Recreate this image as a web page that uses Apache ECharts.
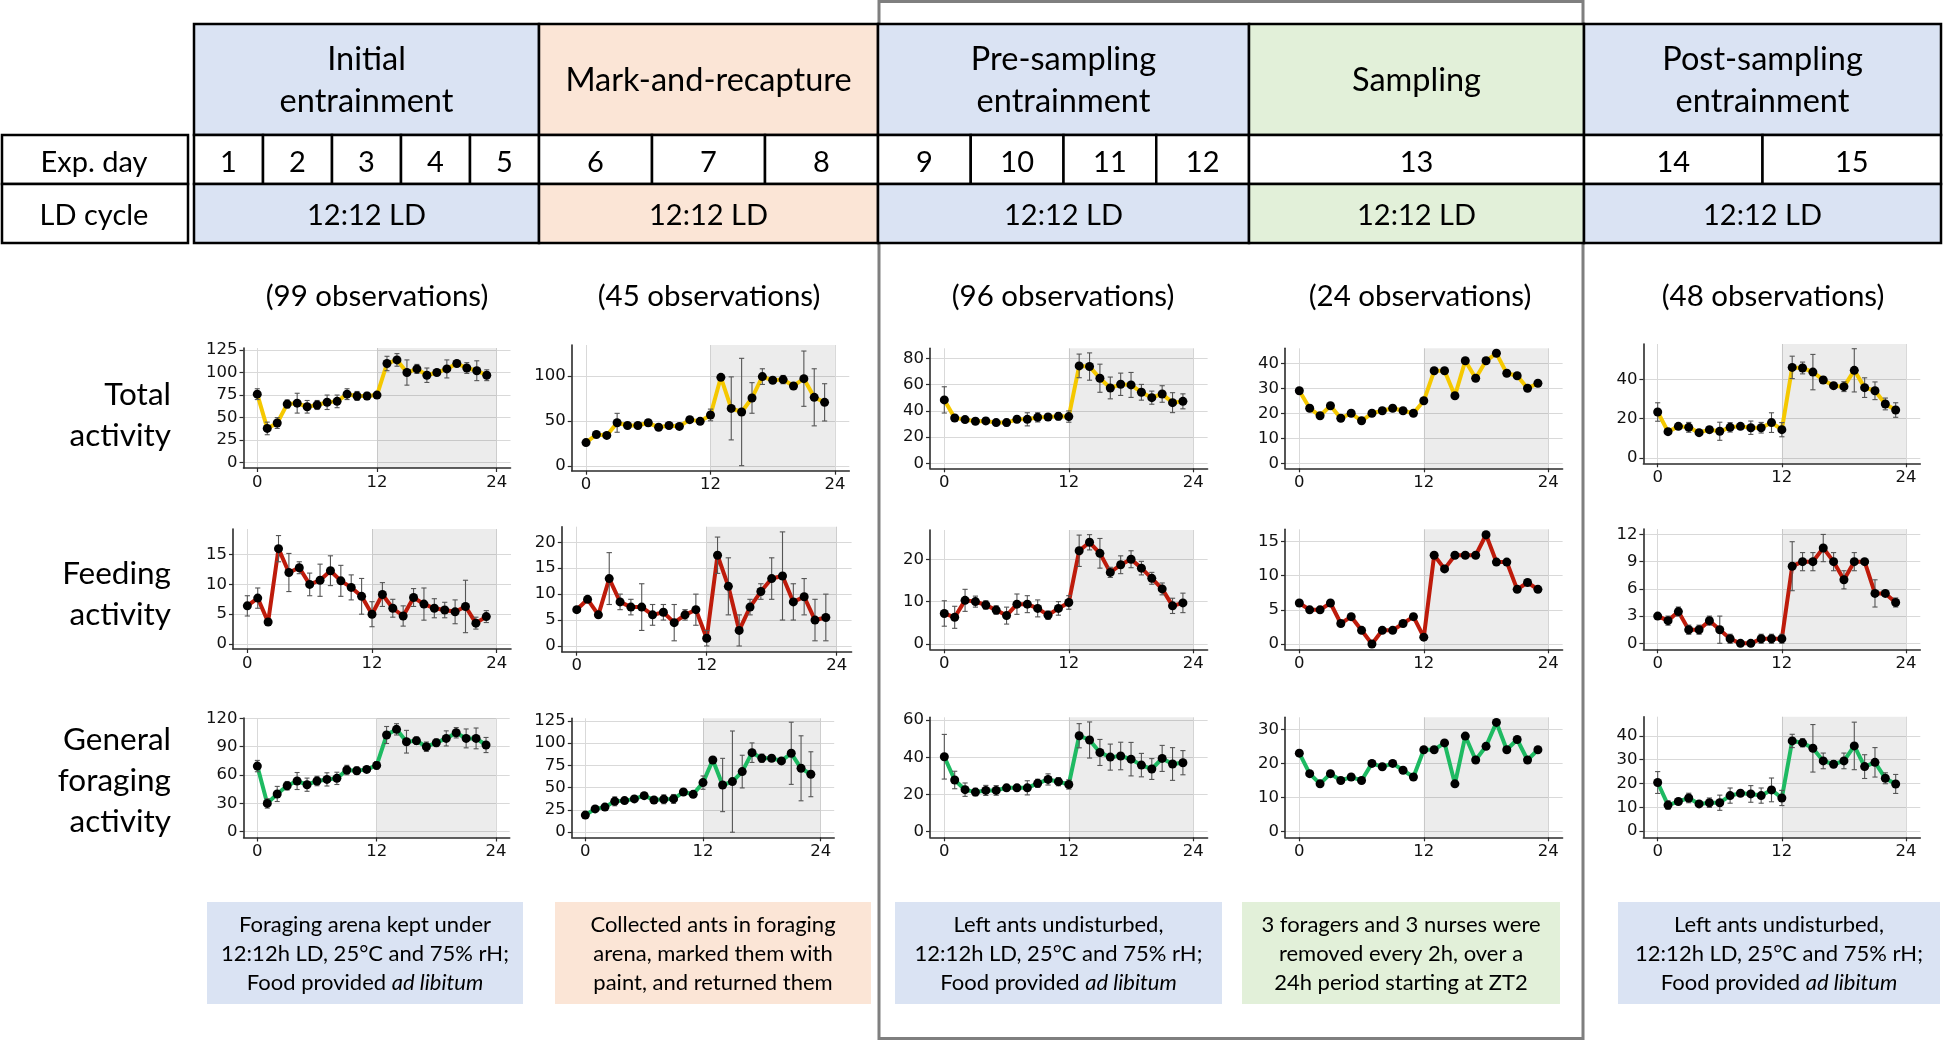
<!DOCTYPE html>
<html>
<head>
<meta charset="utf-8">
<title>Activity rhythms across the experiment</title>
<script src="https://cdn.jsdelivr.net/npm/echarts@6/dist/echarts.min.js"></script>
<style>
  html, body { margin: 0; padding: 0; background: #fff; }
  #chart { width: 1944px; height: 1043px; }
</style>
</head>
<body>
<div id="chart"></div>
<script>
// hour of the day (ZT)
var hours = [0, 1, 2, 3, 4, 5, 6, 7, 8, 9, 10, 11, 12, 13, 14, 15, 16, 17, 18, 19, 20, 21, 22, 23];
var xTicks = [0, 12, 24];

// phases of the experiment
var phases = ["Initial\nentrainment", "Mark-and-recapture", "Pre-sampling\nentrainment", "Sampling", "Post-sampling\nentrainment"];
var expDays = [[1, 2, 3, 4, 5], [6, 7, 8], [9, 10, 11, 12], [13], [14, 15]];
var ldCycle = ["12:12 LD", "12:12 LD", "12:12 LD", "12:12 LD", "12:12 LD"];
var observations = [99, 45, 96, 24, 48];
var rowNames = ["Total\nactivity", "Feeding\nactivity", "General\nforaging\nactivity"];
var notes = [
  "Foraging arena kept under\n12:12h LD, 25°C and 75% rH;\nFood provided {i|ad libitum}",
  "Collected ants in foraging\narena, marked them with\npaint, and returned them",
  "Left ants undisturbed,\n12:12h LD, 25°C and 75% rH;\nFood provided {i|ad libitum}",
  "3 foragers and 3 nurses were\nremoved every 2h, over a\n24h period starting at ZT2",
  "Left ants undisturbed,\n12:12h LD, 25°C and 75% rH;\nFood provided {i|ad libitum}"
];

// Initial entrainment (99 observations)
var totalInit = [76, 38, 44, 65, 66, 62, 64, 67, 68, 76, 74, 74, 75, 110, 114, 100, 104, 97, 100, 104, 110, 105, 102, 97];
var totalInitSe = [6, 7, 6, 4.5, 11, 7, 5, 8, 7, 6, 5, 4, 3, 8, 7, 14, 5, 8, 3, 10, 3, 6, 11, 6];
var feedInit = [6.4, 7.7, 3.7, 16.0, 12.0, 12.8, 10.0, 10.7, 12.3, 10.6, 9.5, 8.0, 5.0, 8.3, 6.0, 4.7, 7.8, 6.7, 6.0, 5.7, 5.4, 6.3, 3.5, 4.6];
var feedInitSe = [1.7, 1.7, 0.5, 2.2, 3.2, 1, 1.9, 2.7, 2.5, 2.6, 2.1, 3, 2.1, 2, 1.5, 1.7, 1.5, 2.7, 1.6, 1.3, 2, 4.4, 1, 1];
var genInit = [69.5, 30, 40, 48.7, 53.7, 49.8, 53.7, 55.4, 56.5, 65.3, 64.6, 66, 70.2, 102.4, 108.4, 95.3, 96.4, 90, 94.2, 98.8, 104.8, 98.8, 98.8, 91.8];
var genInitSe = [6, 5, 8, 4.5, 9, 7, 5, 7, 6.5, 5, 4, 3, 4, 9, 6, 12, 4, 5, 4, 8, 5.5, 10, 11, 8];

// Mark-and-recapture (45 observations)
var totalMark = [26, 35, 34, 48, 45, 45, 48, 43, 45, 44, 51.5, 49.6, 56.7, 98.5, 64, 60, 75.6, 99.3, 95.2, 96, 88.9, 97, 76.3, 70.7];
var totalMarkSe = [1, 2, 2, 10.5, 2, 2, 3.5, 2, 2, 2, 3, 2, 6.5, 2, 35, 59.6, 17, 8.7, 3, 4.6, 2, 30.7, 31.7, 20.7];
var feedMark = [7, 9, 6, 13, 8.5, 7.5, 7.5, 6, 6.5, 4.5, 6, 7, 1.5, 17.5, 11.5, 3, 7.5, 10.5, 13, 13.5, 8.5, 9.5, 5, 5.5];
var feedMarkSe = [0.3, 0.3, 0.3, 5, 1.5, 1.5, 4.5, 2, 1.5, 3.5, 1, 3, 1.5, 3.5, 5.5, 3, 1.5, 1.5, 4, 8.5, 3.5, 3.5, 4, 4.5];
var genMark = [19, 26, 28, 34.5, 35.3, 37.2, 40.9, 36, 36.8, 37.2, 45, 42.4, 55.6, 81, 52.9, 56.7, 68, 89.3, 83, 83, 80, 88.6, 71.7, 65];
var genMarkSe = [1, 1.5, 1.5, 5, 1.5, 1.5, 1.5, 1.5, 5, 5, 2.5, 1.5, 7.5, 1.5, 30, 57, 18.4, 11, 4.7, 1.5, 3, 35, 36.6, 25.3];

// Pre-sampling entrainment (96 observations)
var totalPre = [48.3, 34.5, 33.3, 32, 32.3, 31, 31, 33.5, 33.5, 35, 35.3, 35.8, 35.6, 74.2, 73.7, 64.8, 57.4, 60.2, 59.7, 54.1, 50, 52.8, 46.2, 47.2];
var totalPreSe = [10, 2.3, 1.5, 1.5, 2.3, 1.5, 2.5, 2.5, 5, 3.5, 2, 2.8, 4.3, 9, 10.4, 10.7, 8.3, 8.5, 9.5, 6, 5, 6.3, 7.6, 5.7];
var feedPre = [7.2, 6.3, 10.3, 10, 9.2, 8, 6.7, 9.4, 9.4, 8.4, 6.8, 8.4, 9.8, 22, 24, 21.4, 16.9, 18.7, 20, 17.9, 15.5, 13, 9, 9.7];
var feedPreSe = [3, 2.6, 2.6, 1.3, 1, 1, 2, 2.4, 2, 2, 1, 1.6, 1.6, 3.7, 1.8, 3.5, 1.2, 2.1, 2, 1.6, 1.4, 1.4, 1.8, 2.3];
var genPre = [40.3, 27.8, 22.6, 21.3, 22.2, 22.2, 23.6, 23.6, 23.6, 26, 28.1, 26.9, 25.4, 51.6, 49.3, 42.6, 40.1, 40.7, 39, 35.8, 33.7, 39.4, 36.4, 37.1];
var genPreSe = [12, 4.7, 3.6, 2, 2.7, 2.6, 1.5, 1.5, 3.8, 2.2, 3, 2.2, 2.5, 6.5, 9.7, 7, 7, 7.4, 9, 6.3, 5.6, 7, 8.8, 6.5];

// Sampling (24 observations, no error bars)
var totalSamp = [29, 22, 19, 23, 18, 20, 17, 20, 21, 22, 21, 20, 25, 37, 37, 27, 41, 34, 41, 44, 36, 35, 30, 32];
var feedSamp = [6, 5, 5, 6, 3, 4, 2, 0, 2, 2, 3, 4, 1, 13, 11, 13, 13, 13, 16, 12, 12, 8, 9, 8];
var genSamp = [23, 17, 14, 17, 15, 16, 15, 20, 19, 20, 18, 16, 24, 24, 26, 14, 28, 21, 25, 32, 24, 27, 21, 24];

// Post-sampling entrainment (48 observations)
var totalPost = [23.4, 13.4, 16.1, 15.6, 12.9, 14.4, 13.6, 15.6, 16.1, 15.4, 15.4, 18, 14.4, 46.1, 45.8, 43.7, 39.7, 36.8, 36.3, 44.6, 35.8, 34.2, 27.5, 24.4];
var totalPostSe = [4.7, 1, 1, 2.5, 1, 1.5, 4.6, 2.4, 1, 3.4, 2.7, 5, 3.6, 5.7, 3, 9, 1.7, 1.5, 2.5, 11, 5, 4.5, 3, 3.7];
var feedPost = [3, 2.5, 3.5, 1.5, 1.5, 2.5, 1.5, 0.5, 0, 0, 0.5, 0.5, 0.5, 8.5, 9, 9, 10.5, 9, 7, 9, 9, 5.5, 5.5, 4.5];
var feedPostSe = [0.2, 0.5, 0.5, 0.5, 0.5, 0.5, 1.5, 0.5, 0, 0, 0.5, 0.5, 0.5, 2.7, 1, 1, 1.5, 1, 1, 1, 0.2, 1.5, 0.2, 0.5];
var genPost = [20.4, 10.9, 12.4, 13.9, 11.4, 11.9, 11.9, 14.9, 15.9, 15.6, 14.9, 17.3, 13.9, 37.9, 37.1, 34.8, 29.5, 28.1, 29.5, 35.8, 27.1, 28.9, 22.2, 19.8];
var genPostSe = [4.6, 1.8, 1, 2, 1, 2, 3.2, 3.2, 1, 3.5, 3.2, 5, 3.2, 2.8, 1.7, 10, 3.3, 1.4, 3.3, 10, 5, 6.2, 2.3, 4];

// y-axis tick labels
var ticksTotalInit = [0, 25, 50, 75, 100, 125];
var ticksFeedInit = [0, 5, 10, 15];
var ticksGenInit = [0, 30, 60, 90, 120];
var ticksTotalMark = [0, 50, 100];
var ticksFeedMark = [0, 5, 10, 15, 20];
var ticksGenMark = [0, 25, 50, 75, 100, 125];
var ticksTotalPre = [0, 20, 40, 60, 80];
var ticksFeedPre = [0, 10, 20];
var ticksGenPre = [0, 20, 40, 60];
var ticksTotalSamp = [0, 10, 20, 30, 40];
var ticksFeedSamp = [0, 5, 10, 15];
var ticksGenSamp = [0, 10, 20, 30];
var ticksTotalPost = [0, 20, 40];
var ticksFeedPost = [0, 3, 6, 9, 12];
var ticksGenPost = [0, 10, 20, 30, 40];

var YEL = "#f5c800", RED = "#be1b0b", GRN = "#1eba62";
var FONT = "Lato";

// panel boxes in pixels + y range
var panels = [
  { mean: totalInit, se: totalInitSe, ticks: ticksTotalInit, color: YEL, l: 243.5, r: 510.5, t: 348, b: 468, ymin: -5.9, ymax: 127.2 },
  { mean: feedInit, se: feedInitSe, ticks: ticksFeedInit, color: RED, l: 233, r: 511, t: 529, b: 649, ymin: -0.84, ymax: 19.3 },
  { mean: genInit, se: genInitSe, ticks: ticksGenInit, color: GRN, l: 243.6, r: 509.7, t: 718, b: 837.5, ymin: -6.1, ymax: 120.4 },
  { mean: totalMark, se: totalMarkSe, ticks: ticksTotalMark, color: YEL, l: 571.7, r: 849.3, t: 345, b: 470.7, ymin: -5.2, ymax: 134.4 },
  { mean: feedMark, se: feedMarkSe, ticks: ticksFeedMark, color: RED, l: 561.8, r: 851.6, t: 526.7, b: 651.7, ymin: -1.1, ymax: 23.0 },
  { mean: genMark, se: genMarkSe, ticks: ticksGenMark, color: GRN, l: 571.8, r: 834.2, t: 718.3, b: 837.3, ymin: -6, ymax: 128 },
  { mean: totalPre, se: totalPreSe, ticks: ticksTotalPre, color: YEL, l: 930, r: 1207.6, t: 348.3, b: 468.3, ymin: -3.8, ymax: 87.6 },
  { mean: feedPre, se: feedPreSe, ticks: ticksFeedPre, color: RED, l: 930, r: 1207.6, t: 530, b: 649.3, ymin: -1.25, ymax: 26.9 },
  { mean: genPre, se: genPreSe, ticks: ticksGenPre, color: GRN, l: 930, r: 1207.6, t: 717.3, b: 837.3, ymin: -3, ymax: 61.5 },
  { mean: totalSamp, se: null, ticks: ticksTotalSamp, color: YEL, l: 1285, r: 1562.6, t: 348.3, b: 468.3, ymin: -2, ymax: 46 },
  { mean: feedSamp, se: null, ticks: ticksFeedSamp, color: RED, l: 1285, r: 1562.6, t: 529.3, b: 649.3, ymin: -0.78, ymax: 16.8 },
  { mean: genSamp, se: null, ticks: ticksGenSamp, color: GRN, l: 1285, r: 1562.6, t: 717.3, b: 837.3, ymin: -1.65, ymax: 33.5 },
  { mean: totalPost, se: totalPostSe, ticks: ticksTotalPost, color: YEL, l: 1643.4, r: 1920.3, t: 344, b: 463.3, ymin: -2.7, ymax: 58 },
  { mean: feedPost, se: feedPostSe, ticks: ticksFeedPost, color: RED, l: 1643.4, r: 1920.3, t: 529, b: 649.3, ymin: -0.66, ymax: 12.6 },
  { mean: genPost, se: genPostSe, ticks: ticksGenPost, color: GRN, l: 1643.4, r: 1920.3, t: 716.7, b: 837.3, ymin: -2.65, ymax: 48.1 }
];

// ---------- table, labels and notes ----------
var secX = [194, 539, 878, 1249, 1584, 1941];
var secFill = ["#dae3f3", "#fbe5d6", "#dae3f3", "#e2f0d9", "#dae3f3"];
var colCenter = [377, 709, 1063, 1420, 1773];
var noteX = [[207, 523], [555, 871], [895, 1222], [1242, 1560], [1618, 1940]];

function box(x, y, w, h, fill, stroke, lw, z) {
  return {
    type: "rect", silent: true, z: z || 10,
    shape: { x: x, y: y, width: w, height: h },
    style: { fill: fill, stroke: stroke === undefined ? "#000" : stroke, lineWidth: lw === undefined ? 2.5 : lw }
  };
}
function label(txt, x, y, size, align, lh) {
  return {
    type: "text", silent: true, z: 12, x: x, y: y,
    style: {
      text: String(txt), fontFamily: FONT, fontSize: size, fill: "#000",
      align: align || "center", verticalAlign: "middle", lineHeight: lh || Math.round(size * 1.35),
      rich: { i: { fontStyle: "italic", fontFamily: FONT, fontSize: size, lineHeight: lh || Math.round(size * 1.35) } }
    }
  };
}

var g = [];
// big grey frame around pre-sampling + sampling
g.push(box(879, 1.5, 704, 1037, "none", "#7f7f7f", 3, 5));
// left header labels
g.push(box(2, 135, 186, 49, "#fff"));
g.push(box(2, 184, 186, 59, "#fff"));
g.push(label("Exp. day", 94, 162.5, 29));
g.push(label("LD cycle", 94, 216, 29));

phases.forEach(function (name, i) {
  var x0 = secX[i], w = secX[i + 1] - secX[i];
  g.push(box(x0, 24, w, 111, secFill[i]));
  g.push(label(name, x0 + w / 2, 81, 32.5, "center", 42));
  var nd = expDays[i].length;
  expDays[i].forEach(function (d, k) {
    g.push(box(x0 + k * w / nd, 135, w / nd, 49, "#fff"));
    g.push(label(d, x0 + (k + 0.5) * w / nd, 162.5, 29));
  });
  g.push(box(x0, 184, w, 59, secFill[i]));
  g.push(label(ldCycle[i], x0 + w / 2, 216, 29));

  g.push(label("(" + observations[i] + " observations)", colCenter[i], 296.5, 29.5));

  var nx = noteX[i];
  g.push(box(nx[0], 902, nx[1] - nx[0], 102, secFill[i], "none", 0));
  g.push(label(notes[i], (nx[0] + nx[1]) / 2, 954, 22, "center", 29));
});

var rowY = [415, 594, 781];
rowNames.forEach(function (n, i) {
  g.push(label(n, 171, rowY[i], 31.5, "right", 41));
});

// ---------- the 15 small charts ----------
function errorBar(params, api) {
  var x = api.value(0);
  var lo = api.coord([x, api.value(1)]);
  var hi = api.coord([x, api.value(2)]);
  var cap = api.size([0.25, 0])[0];
  var st = { stroke: "#555", lineWidth: 1.1 };
  return {
    type: "group",
    children: [
      { type: "line", shape: { x1: hi[0], y1: hi[1], x2: lo[0], y2: lo[1] }, style: st },
      { type: "line", shape: { x1: hi[0] - cap, y1: hi[1], x2: hi[0] + cap, y2: hi[1] }, style: st },
      { type: "line", shape: { x1: lo[0] - cap, y1: lo[1], x2: lo[0] + cap, y2: lo[1] }, style: st }
    ]
  };
}

var option = {
  animation: false,
  backgroundColor: "#fff",
  graphic: { elements: g },
  grid: [], xAxis: [], yAxis: [], series: []
};

var axisColor = "#2b2b2b";
var tickFont = { fontFamily: "DejaVu Sans", fontSize: 16.5, color: "#111", margin: 6 };
panels.forEach(function (p, i) {
  option.grid.push({ left: p.l, top: p.t, width: p.r - p.l, height: p.b - p.t });
  option.xAxis.push({
    gridIndex: i, type: "value", min: -1.38, max: 25.38,
    axisLine: { show: true, onZero: false, lineStyle: { color: axisColor, width: 1.6 } },
    axisTick: { show: true, customValues: xTicks, length: 4, lineStyle: { color: axisColor, width: 1.2 } },
    axisLabel: Object.assign({ customValues: xTicks }, tickFont),
    splitLine: { show: false }
  });
  option.yAxis.push({
    gridIndex: i, type: "value", min: p.ymin, max: p.ymax,
    axisLine: { show: true, onZero: false, lineStyle: { color: axisColor, width: 1.6 } },
    axisTick: { show: true, customValues: p.ticks, length: 4, lineStyle: { color: axisColor, width: 1.2 } },
    axisLabel: Object.assign({ customValues: p.ticks }, tickFont),
    splitLine: { show: false }
  });

  var pts = hours.map(function (h, k) { return [h, p.mean[k]]; });
  var grid = p.ticks.map(function (v) { return { yAxis: v }; })
    .concat(xTicks.map(function (v) { return { xAxis: v }; }));

  // background: grid lines + dark-phase shading
  option.series.push({
    type: "line", xAxisIndex: i, yAxisIndex: i, data: pts, silent: true,
    showSymbol: false, symbol: "none", lineStyle: { opacity: 0 }, z: 1,
    markLine: {
      silent: true, symbol: "none", z: 0, animation: false,
      label: { show: false }, emphasis: { disabled: true },
      lineStyle: { color: "#d9d9d9", width: 1, type: "solid" },
      data: grid
    },
    markArea: {
      silent: true, z: 1,
      itemStyle: { color: "rgba(0,0,0,0.075)" },
      data: [[{ xAxis: 12 }, { xAxis: 24 }]]
    }
  });
  // mean line
  option.series.push({
    type: "line", xAxisIndex: i, yAxisIndex: i, data: pts, silent: true,
    showSymbol: false, symbol: "none", z: 3,
    lineStyle: { color: p.color, width: 4 }
  });
  // error bars
  if (p.se) {
    option.series.push({
      type: "custom", xAxisIndex: i, yAxisIndex: i, silent: true, z: 4,
      renderItem: errorBar,
      encode: { x: 0, y: [1, 2] },
      data: hours.map(function (h, k) { return [h, p.mean[k] - p.se[k], p.mean[k] + p.se[k]]; })
    });
  }
  // points
  option.series.push({
    type: "scatter", xAxisIndex: i, yAxisIndex: i, data: pts, silent: true, z: 5,
    symbol: "circle", symbolSize: 9, itemStyle: { color: "#000", opacity: 1 }
  });
});

var chart = echarts.init(document.getElementById("chart"));
chart.setOption(option);
</script>
</body>
</html>
